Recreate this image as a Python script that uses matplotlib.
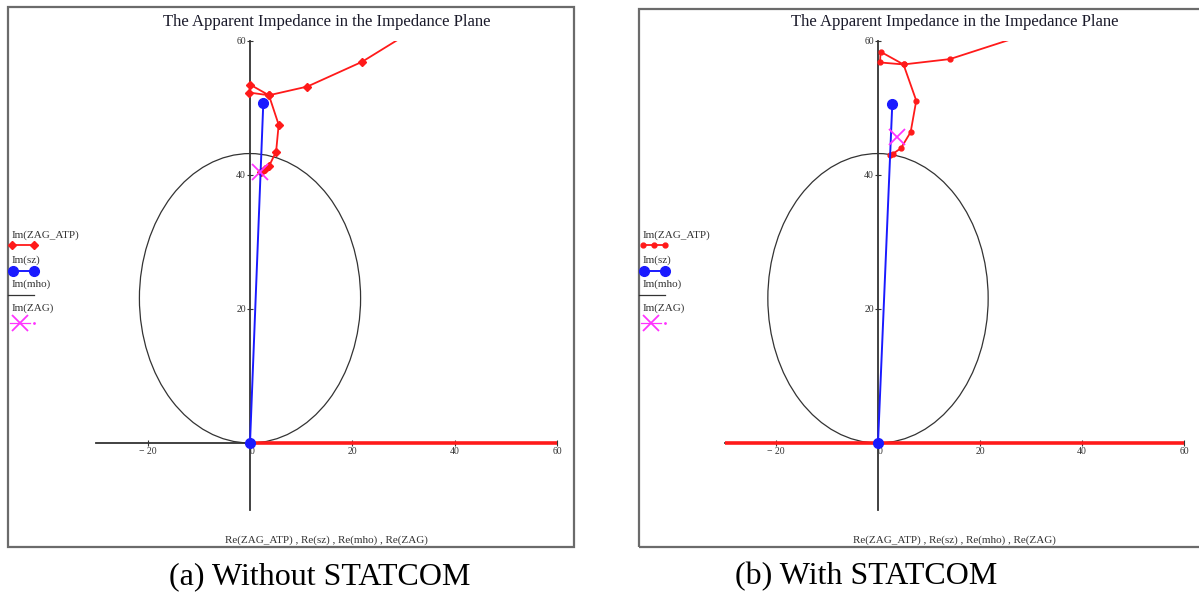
import matplotlib
matplotlib.use("Agg")
import matplotlib.pyplot as plt
from matplotlib.patches import Circle, Rectangle
from matplotlib.lines import Line2D

plt.rcParams['font.family'] = ['Liberation Serif', 'DejaVu Serif']

W, H = 1199, 596

# mho characteristic (same for both cases)
mho_center = (0.0, 21.6)
mho_radius = 21.6

# (a) without STATCOM
atp_a_re = [34.0, 21.9, 11.2, 3.7, 0.0, -0.1, 3.7, 5.6, 5.1, 3.7, 2.9, 2.1]
atp_a_im = [62.6, 56.9, 53.2, 51.9, 53.5, 52.3, 51.9, 47.5, 43.5, 41.3, 40.9, 40.5]
atp_a_axis_re = [0.0, 60.0]
atp_a_axis_im = [0.0, 0.0]
sz_a_re = [0.0, 2.6]
sz_a_im = [0.0, 50.8]
zag_a_re = [2.0]
zag_a_im = [40.5]

# (b) with STATCOM
atp_b_re = [34.0, 14.1, 5.0, 0.5, 0.4, 5.0, 7.5, 6.4, 4.5, 3.0, 2.4]
atp_b_im = [62.2, 57.3, 56.5, 58.4, 56.8, 56.5, 51.1, 46.4, 44.0, 43.2, 43.0]
atp_b_axis_re = [-30.0, 60.0]
atp_b_axis_im = [0.0, 0.0]
sz_b_re = [0.0, 2.8]
sz_b_im = [0.0, 50.6]
zag_b_re = [3.8]
zag_b_im = [45.6]

xticks = [-20, 0, 20, 40, 60]
xtick_labels = ['\u2212 20', '0', '20', '40', '60']
yticks = [20, 40, 60]

title = 'The Apparent Impedance in the Impedance Plane'
xlabel = 'Re(ZAG_ATP) , Re(sz) , Re(mho) , Re(ZAG)'
legend_labels = ['Im(ZAG_ATP)', 'Im(sz)', 'Im(mho)', 'Im(ZAG)']
captions = ['(a) Without STATCOM', '(b) With STATCOM']

fig = plt.figure(figsize=(W / 100, H / 100), dpi=100)


def fx(x):
    return x / W


def fy(y):
    return 1 - y / H


def panel(x0, ppu, frame, atp_re, atp_im, axis_re, axis_im, sz_re, sz_im,
          zag_re, zag_im, marker, msize, nleg, leg_x, caption, cap_x):
    # outer frame
    fl, ft, fr, fb = frame
    fig.add_artist(Rectangle((fx(fl), fy(fb)), fx(fr - fl), (fb - ft) / H,
                             transform=fig.transFigure, fill=False,
                             edgecolor='#6b6b6b', lw=1.6))
    left = x0 - 30 * ppu
    right = x0 + 60 * ppu
    top, bottom = 41, 510
    ax = fig.add_axes([fx(left), fy(bottom), fx(right - left), (bottom - top) / H])
    ax.set_xlim(-30, 60)
    ax.set_ylim(-10, 60)
    ax.patch.set_alpha(0)
    for s in ['top', 'right']:
        ax.spines[s].set_visible(False)
    ax.spines['left'].set_position(('data', 0))
    ax.spines['bottom'].set_position(('data', 0))
    for s in ['left', 'bottom']:
        ax.spines[s].set_color('#333333')
        ax.spines[s].set_linewidth(1.3)
    ax.set_xticks(xticks)
    ax.set_xticklabels(xtick_labels)
    ax.set_yticks(yticks)
    ax.tick_params(direction='inout', length=4, width=0.8, labelsize=7,
                   pad=1, colors='#333333')
    for lab in ax.get_xticklabels():
        if lab.get_text() == '0':
            lab.set_horizontalalignment('left')
            lab.set_zorder(5)

    ax.add_patch(Circle(mho_center, mho_radius, fill=False, ec='#333333', lw=0.9))
    ax.plot(axis_re, axis_im, color='#ff1a1a', lw=2.6, solid_capstyle='butt',
            zorder=3)
    ax.plot(atp_re, atp_im, color='#ff1a1a', lw=1.3, marker=marker,
            ms=msize, mec='#ff1a1a', mfc='#ff1a1a', zorder=3)
    ax.plot(sz_re, sz_im, color='#1a1aff', lw=1.4, marker='o', ms=7, zorder=4)
    ax.plot(zag_re, zag_im, ls='none', marker='x', color='#ff33ff', ms=11,
            mew=1.3, zorder=5)

    # title & axis label centered on plot range
    cx = x0 + 15 * ppu
    fig.text(fx(cx), fy(22), title, ha='center', va='center', fontsize=12,
             color='#1a1a2a')
    fig.text(fx(cx), fy(540), xlabel, ha='center', va='center', fontsize=8,
             color='#333333')
    fig.text(fx(cap_x), fy(577), caption, ha='center', va='center', fontsize=23)

    # legend (Mathcad style: label above glyph)
    lx0, lx1 = leg_x, leg_x + 24
    ys_lab = [235, 260, 284, 308]
    for lab, yl in zip(legend_labels, ys_lab):
        fig.text(fx(lx0 + 2), fy(yl), lab, ha='left', va='center', fontsize=8,
                 color='#333333')
    step = (lx1 - lx0 - 2) / (nleg - 1)
    red_x = [fx(lx0 + 2 + i * step) for i in range(nleg)]
    fig.add_artist(Line2D(red_x, [fy(245)] * nleg, color='#ff1a1a',
                          lw=1.3, marker=marker, ms=msize, transform=fig.transFigure))
    fig.add_artist(Line2D([fx(lx0 + 3), fx(lx1)], [fy(271)] * 2, color='#1a1aff',
                          lw=1.4, marker='o', ms=7, transform=fig.transFigure))
    fig.add_artist(Line2D([fx(lx0 - 2), fx(lx1)], [fy(295)] * 2, color='#333333',
                          lw=0.9, transform=fig.transFigure))
    fig.add_artist(Line2D([fx(lx0), fx(lx1 - 4)], [fy(323)] * 2, color='#ff33ff',
                          lw=0.9, transform=fig.transFigure))
    fig.add_artist(Line2D([fx(lx0 + 10)], [fy(323)], color='#ff33ff', marker='x',
                          ms=11, mew=1.3, ls='none', transform=fig.transFigure))
    fig.add_artist(Line2D([fx(lx1)], [fy(323)], color='#ff33ff', marker='.',
                          ms=2, ls='none', transform=fig.transFigure))
    return ax


panel(250, 5.12, (8, 7, 574, 547), atp_a_re, atp_a_im, atp_a_axis_re, atp_a_axis_im,
      sz_a_re, sz_a_im, zag_a_re, zag_a_im, 'D', 4.5, 2, 10, captions[0], 320)
panel(878, 5.1, (639, 9, 1210, 547), atp_b_re, atp_b_im, atp_b_axis_re, atp_b_axis_im,
      sz_b_re, sz_b_im, zag_b_re, zag_b_im, 'o', 3.5, 3, 641, captions[1], 866)

fig.savefig('out.png', dpi=100)
